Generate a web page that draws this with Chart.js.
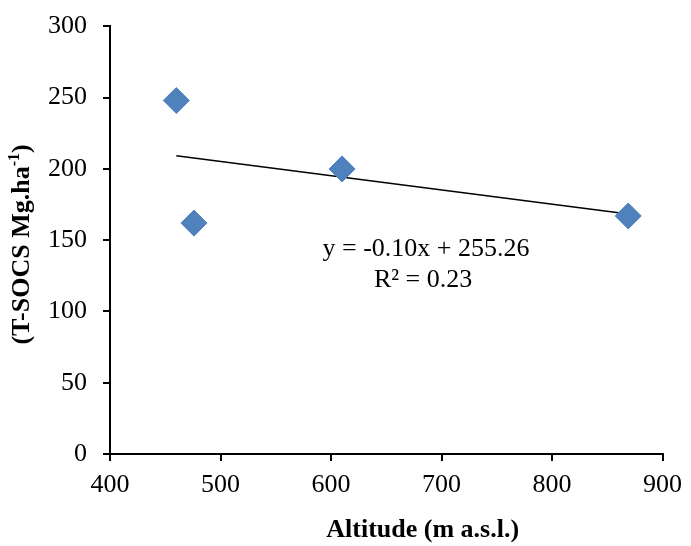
<!DOCTYPE html>
<html>
<head>
<meta charset="utf-8">
<script src="https://cdn.jsdelivr.net/npm/chart.js@4"></script>
<style>
  body { margin: 0; background: #fff; }
  #wrap { width: 691px; height: 546px; }
</style>
</head>
<body>
<div id="wrap"><canvas id="scatterChart" width="691" height="546"></canvas></div>
<script>
// Altitude (m a.s.l.) and T-SOCS (Mg/ha)
const altitude = [460, 476, 610, 869];
const socStock = [248, 162, 200, 167];

// Linear trend as printed on the chart
const trendSlope = -0.10;
const trendIntercept = 255.26;
const trendLabel = ['y = -0.10x + 255.26', 'R\u00B2 = 0.23'];

const xTitle = 'Altitude (m a.s.l.)';
const yTitle = ['(T-SOCS Mg.ha', '-1', ')'];

const points = altitude.map((x, i) => ({ x: x, y: socStock[i] }));
const xMin = Math.min(...altitude);
const xMax = Math.max(...altitude);
const trendPoints = [
    { x: xMin, y: trendSlope * xMin + trendIntercept },
    { x: xMax, y: trendSlope * xMax + trendIntercept }
];

const serif = '"Liberation Serif", "Times New Roman", serif';

// equation text and the two axis titles
const textPlugin = {
    id: 'chartText',
    afterDraw(chart) {
        const ctx = chart.ctx;
        const xs = chart.scales.x;
        const ys = chart.scales.y;
        ctx.save();
        ctx.fillStyle = '#000';

        // trend equation
        ctx.font = '26px ' + serif;
        ctx.textAlign = 'center';
        ctx.textBaseline = 'alphabetic';
        const ex = xs.getPixelForValue(686);
        const ey = ys.getPixelForValue(143);
        ctx.fillText(trendLabel[0], ex, ey + 6);
        ctx.fillText(trendLabel[1], ex - 3, ey + 37);

        // x axis title
        ctx.font = 'bold 26px ' + serif;
        ctx.fillText(xTitle, xs.getPixelForValue(683), chart.height - 9);

        // y axis title, rotated, with superscript -1
        ctx.translate(29, ys.getPixelForValue(147));
        ctx.rotate(-Math.PI / 2);
        const bigFont = 'bold 26px ' + serif;
        const smallFont = 'bold 16px ' + serif;
        ctx.font = bigFont;
        const w0 = ctx.measureText(yTitle[0]).width;
        const w2 = ctx.measureText(yTitle[2]).width;
        ctx.font = smallFont;
        const w1 = ctx.measureText(yTitle[1]).width;
        let pos = -(w0 + w1 + w2) / 2;
        ctx.textAlign = 'left';
        ctx.font = bigFont;
        ctx.fillText(yTitle[0], pos, 0);
        pos += w0;
        ctx.font = smallFont;
        ctx.fillText(yTitle[1], pos, -10);
        pos += w1;
        ctx.font = bigFont;
        ctx.fillText(yTitle[2], pos, 0);
        ctx.restore();
    }
};

new Chart(document.getElementById('scatterChart'), {
    type: 'scatter',
    data: {
        datasets: [{
            data: points,
            pointStyle: 'rectRot',
            pointRadius: 13,
            pointHoverRadius: 13,
            backgroundColor: '#4F81BD',
            borderColor: '#4F81BD',
            borderWidth: 1
        }, {
            type: 'line',
            data: trendPoints,
            borderColor: '#000',
            borderWidth: 1.5,
            pointRadius: 0,
            fill: false
        }]
    },
    options: {
        responsive: false,
        animation: false,
        events: [],
        layout: { padding: { top: 25, right: 26, left: 0, bottom: 0 } },
        plugins: { legend: { display: false }, tooltip: { enabled: false } },
        scales: {
            x: {
                type: 'linear',
                min: 400,
                max: 900,
                afterFit: function(scale) { scale.height = 92; },
                ticks: { stepSize: 100, color: '#000', padding: 9, font: { family: serif, size: 26 } },
                grid: { drawOnChartArea: false, drawTicks: true, tickLength: 7, color: '#000', lineWidth: 2 },
                border: { color: '#000', width: 2 }
            },
            y: {
                min: 0,
                max: 300,
                afterFit: function(scale) { scale.width = 110; },
                ticks: { stepSize: 50, color: '#000', padding: 16, font: { family: serif, size: 26, lineHeight: 0.8 } },
                grid: { drawOnChartArea: false, drawTicks: true, tickLength: 7, color: '#000', lineWidth: 2 },
                border: { color: '#000', width: 2 }
            }
        }
    },
    plugins: [textPlugin]
});
</script>
</body>
</html>
